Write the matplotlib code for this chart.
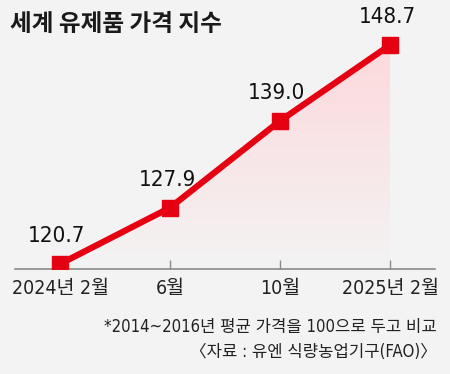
import matplotlib.pyplot as plt
import numpy as np
from matplotlib.colors import LinearSegmentedColormap

plt.rcParams['font.family'] = ['DejaVu Sans', 'Noto Sans CJK KR']
plt.rcParams['font.stretch'] = 'condensed'

months = ['2024년 2월', '6월', '10월', '2025년 2월']
index_vals = [120.7, 127.9, 139.0, 148.7]
title = '세계 유제품 가격 지수'
note = '*2014~2016년 평균 가격을 100으로 두고 비교'
source = '〈자료 : 유엔 식량농업기구(FAO)〉'

bg = '#f3f3f3'
red = '#e50012'
ymin, ymax = 120.06, 154.46

fig = plt.figure(figsize=(4.5, 3.74), dpi=100)
fig.patch.set_facecolor(bg)
ax = fig.add_axes([15 / 450, 1 - 269 / 374, 420 / 450, 269 / 374])
ax.set_facecolor('none')

x = np.arange(len(months))

# gradient under the line
poly = ax.fill_between(x, index_vals, ymin, color='none', lw=0)
cmap = LinearSegmentedColormap.from_list('pinkfade', [bg, '#fdd9dc'])
grad = np.linspace(0, 1, 256).reshape(-1, 1)
im = ax.imshow(grad, extent=[x[0], x[-1], ymin, max(index_vals)], origin='lower',
               cmap=cmap, aspect='auto', zorder=1)
im.set_clip_path(poly.get_paths()[0], transform=ax.transData)

ax.plot(x, index_vals, color=red, lw=4.5, marker='s', ms=11, zorder=3,
        solid_capstyle='butt')

for xi, v in zip(x, index_vals):
    ax.annotate(f'{v:.1f}', (xi, v), xytext=(-3, 28), textcoords='offset pixels',
                ha='center', va='center', fontsize=16, color='#111111')

ax.set_xlim(-45 / 110, 3 + 45 / 110)
ax.set_ylim(ymin, ymax)

for s in ['top', 'left', 'right']:
    ax.spines[s].set_visible(False)
ax.spines['bottom'].set_color('#8a8a8a')
ax.spines['bottom'].set_linewidth(1.2)
ax.set_yticks([])
ax.set_xticks(x)
ax.set_xticklabels(months)
ax.tick_params(axis='x', direction='in', length=6.5, width=1, color='#8a8a8a',
               labelsize=14, pad=7, labelcolor='#222222')

fig.text(10 / 450, 1 - 24 / 374, title, fontsize=17, fontweight='black',
         family='Noto Sans CJK KR', va='center', color='#1a1a1a')
fig.text(437 / 450, 1 - 327 / 374, note, ha='right', va='center', fontsize=12,
         color='#222222')
fig.text(437 / 450, 1 - 352 / 374, source, ha='right', va='center', fontsize=12,
         color='#222222')

fig.savefig('out.png', dpi=100, facecolor=bg)
